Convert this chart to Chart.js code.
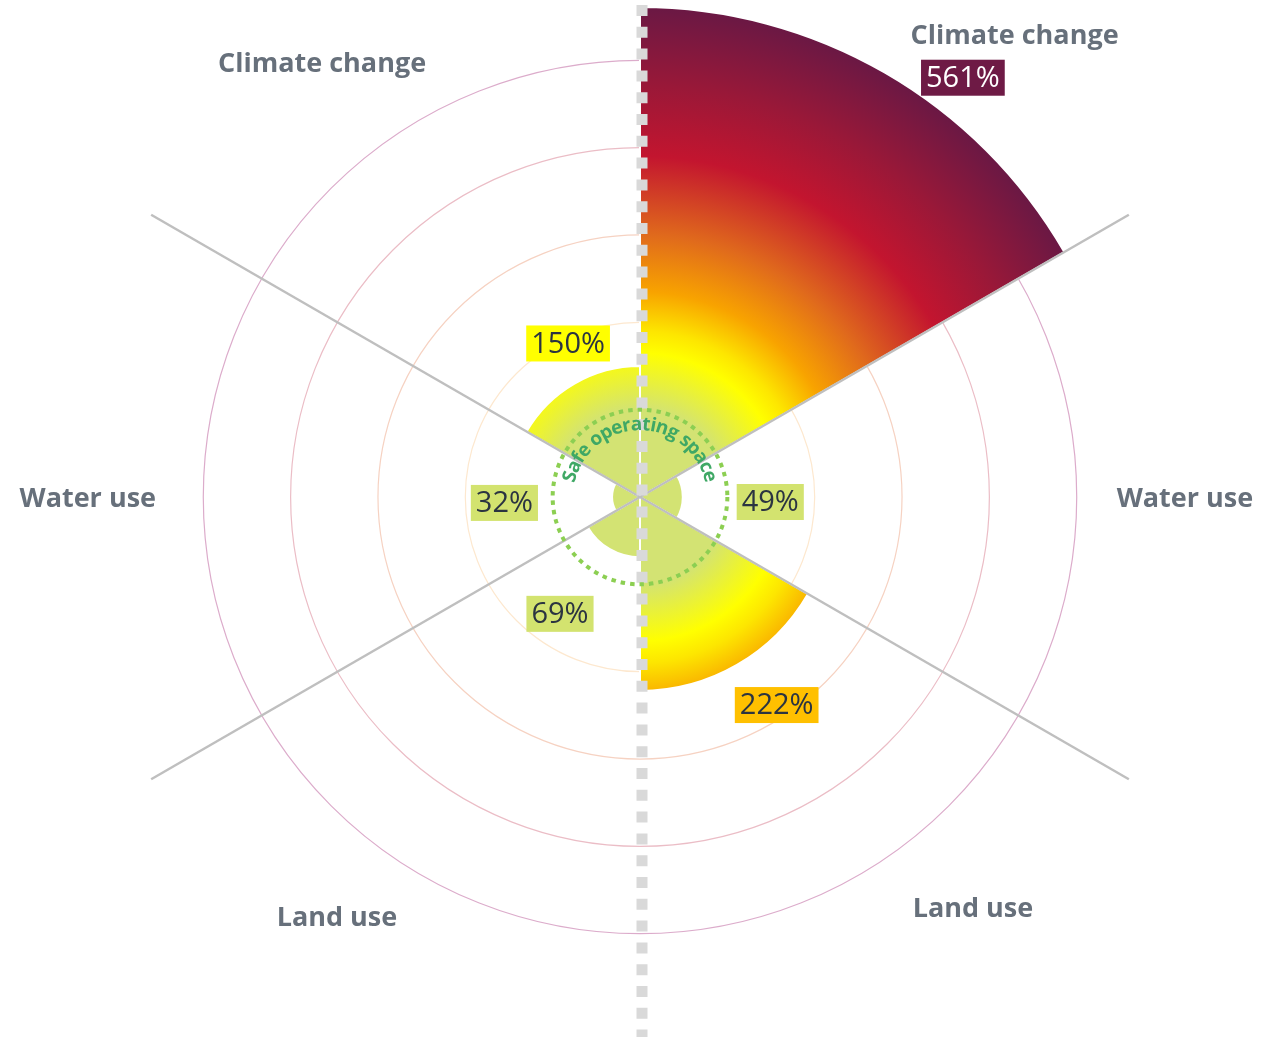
<!DOCTYPE html>
<html>
<head>
<meta charset="utf-8">
<script src="https://cdn.jsdelivr.net/npm/chart.js@4.4.1/dist/chart.umd.min.js"></script>
<style>
  html, body { margin: 0; padding: 0; background: #fff; }
  #wrap { width: 1283px; height: 1037px; position: relative; }
</style>
</head>
<body>
<div id="wrap"><canvas id="boundaries"></canvas></div>
<script>
// ---- data ----
const categories = ["Climate change", "Water use", "Land use", "Land use", "Water use", "Climate change"];
const values = [561, 49, 222, 69, 32, 150];
const ringValues = [0, 100, 200, 300, 400, 500];
const scaleMax = 561;
const safeLimit = 100;

// ---- styles ----
const ringColors = ["transparent", "transparent", "#fde8cf", "#f6d2c2", "#ebbdc6", "#dcaccb"];
const labelBg = ["#6e1a45", "#d3e36f", "#ffc000", "#d3e36f", "#d3e36f", "#ffff00"];
const labelFg = ["#ffffff", "#2b3441", "#2b3441", "#2b3441", "#2b3441", "#2b3441"];
// [angle in degrees clockwise from top, distance as share of the plot radius]
const valueLabelPos = [[37.6, 1.080], [92.2, 0.266], [146.7, 0.508], [214.4, 0.289], [267.5, 0.277], [334.9, 0.346]];
const nameLabelPos = [[39.1, 1.212], [90.2, 1.112], [141.1, 1.082], [215.7, 1.060], [269.8, 1.127], [323.7, 1.096]];

// gradient stops, by value
const fillStops = [
  [0, "#d3e373"],
  [100, "#d3e373"],
  [165, "#ffff00"],
  [190, "#fde600"],
  [235, "#f8a300"],
  [300, "#e06a1c"],
  [390, "#c3152f"],
  [470, "#9a1838"],
  [561, "#6a1844"]
];

function polar(scale, angleDeg, dist) {
  const a = angleDeg * Math.PI / 180;
  return { x: scale.xCenter + dist * Math.sin(a), y: scale.yCenter - dist * Math.cos(a) };
}

function sectorFill(context) {
  const chart = context.chart;
  const scale = chart.scales.r;
  if (!chart.chartArea || !scale || !scale.drawingArea) return "#d3e373";
  const R = scale.getDistanceFromCenterForValue(scaleMax);
  const g = chart.ctx.createRadialGradient(scale.xCenter, scale.yCenter, 0, scale.xCenter, scale.yCenter, R);
  fillStops.forEach(([v, c]) => g.addColorStop(v / scaleMax, c));
  return g;
}

// ---- overlay: spokes, dashed axis, safe ring ----
const overlay = {
  id: "overlay",
  afterDatasetsDraw(chart) {
    const ctx = chart.ctx;
    const scale = chart.scales.r;
    const cx = scale.xCenter, cy = scale.yCenter;
    const n = values.length;
    const spoke = scale.drawingArea * 1.152;

    // sector boundaries (vertical one is the dashed axis)
    ctx.save();
    ctx.strokeStyle = "#bfbfbf";
    ctx.lineWidth = 2.5;
    for (let i = 0; i < n; i++) {
      const ang = i * 360 / n;
      if (ang % 180 === 0) continue;
      const p = polar(scale, ang, spoke);
      ctx.beginPath();
      ctx.moveTo(cx, cy);
      ctx.lineTo(p.x, p.y);
      ctx.stroke();
    }
    ctx.restore();

    // dashed vertical axis
    ctx.save();
    ctx.strokeStyle = "#d9d9d9";
    ctx.lineWidth = 11;
    ctx.setLineDash([11, 10.8]);
    ctx.beginPath();
    ctx.moveTo(cx + 2, 5);
    ctx.lineTo(cx + 2, chart.height);
    ctx.stroke();
    ctx.restore();

    // safe operating space ring
    const rs = scale.getDistanceFromCenterForValue(safeLimit);
    ctx.save();
    ctx.strokeStyle = "#8ccf52";
    ctx.lineWidth = 4;
    ctx.setLineDash([4.5, 5]);
    ctx.beginPath();
    ctx.arc(cx, cy, rs, 0, Math.PI * 2);
    ctx.stroke();
    ctx.restore();

    // curved caption inside the ring
    const text = "Safe operating space";
    const rt = rs - 15;
    ctx.save();
    ctx.font = "bold 19px 'Open Sans'";
    ctx.fillStyle = "#3fa865";
    ctx.textAlign = "center";
    ctx.textBaseline = "middle";
    const total = ctx.measureText(text).width;
    let a = -total / (2 * rt);
    for (const ch of text) {
      const w = ctx.measureText(ch).width;
      a += w / (2 * rt);
      ctx.save();
      ctx.translate(cx + rt * Math.sin(a), cy - rt * Math.cos(a));
      ctx.rotate(a);
      ctx.fillText(ch, 0, 0);
      ctx.restore();
      a += w / (2 * rt);
    }
    ctx.restore();
  },

  // ---- category names and value tags ----
  afterDraw(chart) {
    const ctx = chart.ctx;
    const scale = chart.scales.r;
    const R = scale.drawingArea;

    ctx.save();
    ctx.textAlign = "center";
    ctx.textBaseline = "middle";

    ctx.font = "bold 27px 'Open Sans'";
    ctx.fillStyle = "#67707b";
    categories.forEach((name, i) => {
      const p = polar(scale, nameLabelPos[i][0], nameLabelPos[i][1] * R);
      ctx.fillText(name, p.x, p.y);
    });

    ctx.font = "29px 'Open Sans'";
    values.forEach((v, i) => {
      const p = polar(scale, valueLabelPos[i][0], valueLabelPos[i][1] * R);
      const txt = v + "%";
      const w = ctx.measureText(txt).width + 10;
      const h = 36;
      ctx.fillStyle = labelBg[i];
      ctx.fillRect(p.x - w / 2, p.y - h / 2, w, h);
      ctx.fillStyle = labelFg[i];
      ctx.fillText(txt, p.x, p.y + 1);
    });
    ctx.restore();
  }
};

new Chart(document.getElementById("boundaries"), {
  type: "polarArea",
  data: {
    labels: categories,
    datasets: [
      {
        data: values,
        backgroundColor: sectorFill,
        borderColor: "#ffffff",
        borderWidth: 2
      }
    ]
  },
  options: {
    responsive: true,
    maintainAspectRatio: false,
    animation: false,
    layout: { padding: { top: 7, bottom: 50, left: 0, right: 3 } },
    plugins: {
      legend: { display: false },
      tooltip: { enabled: false }
    },
    scales: {
      r: {
        min: 0,
        max: scaleMax,
        startAngle: 0,
        afterBuildTicks: s => { s.ticks = ringValues.map(v => ({ value: v })); },
        ticks: { display: false },
        angleLines: { display: false },
        pointLabels: { display: false },
        grid: {
          circular: true,
          lineWidth: 1.2,
          color: c => ringColors[c.index] || "transparent"
        }
      }
    }
  },
  plugins: [overlay]
});
</script>
</body>
</html>
